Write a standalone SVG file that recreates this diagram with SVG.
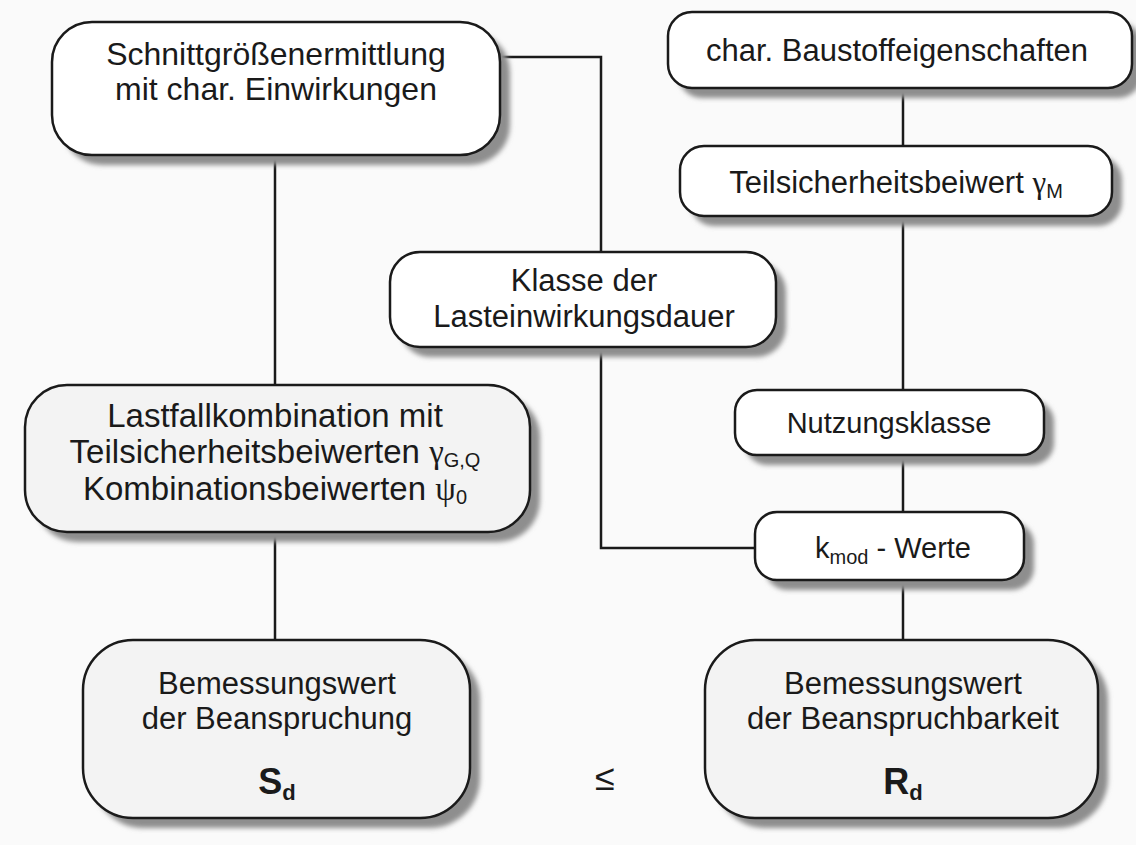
<svg xmlns="http://www.w3.org/2000/svg" width="1136" height="845" viewBox="0 0 1136 845">
<defs>
<filter id="blur" x="-10%" y="-10%" width="120%" height="130%"><feGaussianBlur stdDeviation="2.5"/></filter>
<style>
.bx{fill:#ffffff;stroke:#1a1a1a;stroke-width:2.5}
.bg{fill:#f3f3f3;stroke:#1a1a1a;stroke-width:2.5}
.sh{fill:#8e8e8e;filter:url(#blur)}
.ln{stroke:#1a1a1a;stroke-width:2.5;fill:none}
text{font-family:"Liberation Sans",Arial,sans-serif;font-size:31px;fill:#1a1a1a;text-anchor:middle}
.gr{font-family:"Liberation Serif","Times New Roman",serif}
.sub{font-size:20px}
.bd{font-weight:bold;font-size:36px}
.bds{font-weight:bold;font-size:22px}
</style>
</defs>
<rect width="1136" height="845" fill="#fafafa"/>
<g id="connectors">
<path class="ln" d="M275,155 V385"/>
<path class="ln" d="M500,57 H601 V252"/>
<path class="ln" d="M601,347 V548 H755"/>
<path class="ln" d="M903,88 V146"/>
<path class="ln" d="M903,216 V390"/>
<path class="ln" d="M903,455 V512"/>
<path class="ln" d="M903,580 V640"/>
<path class="ln" d="M275,532 V640"/>
</g>
<g id="n1">
<rect class="sh" x="62" y="32" width="448" height="133" rx="40"/>
<rect class="bx" x="52" y="22" width="448" height="133" rx="40"/>
<text x="276" y="65" style="font-size:32px">Schnittgrößenermittlung</text>
<text x="276" y="100" style="font-size:32px">mit char. Einwirkungen</text>
</g>
<g id="n2">
<rect class="sh" x="678" y="22" width="464" height="76" rx="24"/>
<rect class="bx" x="668" y="12" width="464" height="76" rx="24"/>
<text x="897" y="61">char. Baustoffeigenschaften</text>
</g>
<g id="n3">
<rect class="sh" x="690" y="156" width="432" height="70" rx="24"/>
<rect class="bx" x="680" y="146" width="432" height="70" rx="24"/>
<text x="896" y="193">Teilsicherheitsbeiwert <tspan class="gr">γ</tspan><tspan class="sub" dy="5">M</tspan></text>
</g>
<g id="n4">
<rect class="sh" x="400" y="262" width="386" height="95" rx="30"/>
<rect class="bx" x="390" y="252" width="386" height="95" rx="30"/>
<text x="584" y="291">Klasse der</text>
<text x="584" y="327">Lasteinwirkungsdauer</text>
</g>
<g id="n5">
<rect class="sh" x="35" y="395" width="505" height="147" rx="42"/>
<rect class="bg" x="25" y="385" width="505" height="147" rx="42"/>
<text x="275" y="427" style="font-size:33px">Lastfallkombination mit</text>
<text x="275" y="463" style="font-size:33px">Teilsicherheitsbeiwerten <tspan class="gr">γ</tspan><tspan class="sub" dy="4">G,Q</tspan></text>
<text x="275" y="500" style="font-size:33px">Kombinationsbeiwerten <tspan class="gr">ψ</tspan><tspan class="sub" dy="4">0</tspan></text>
</g>
<g id="n6">
<rect class="sh" x="745" y="400" width="309" height="65" rx="22"/>
<rect class="bx" x="735" y="390" width="309" height="65" rx="22"/>
<text x="889" y="433" style="font-size:29px">Nutzungsklasse</text>
</g>
<g id="n7">
<rect class="sh" x="765" y="522" width="269" height="68" rx="22"/>
<rect class="bx" x="755" y="512" width="269" height="68" rx="22"/>
<text x="893" y="558" style="font-size:29px">k<tspan class="sub" dy="6">mod</tspan><tspan dy="-6"> - Werte</tspan></text>
</g>
<g id="n8">
<rect class="sh" x="93" y="650" width="387" height="178" rx="50"/>
<rect class="bg" x="83" y="640" width="387" height="178" rx="50"/>
<text x="277" y="694">Bemessungswert</text>
<text x="277" y="729">der Beanspruchung</text>
<text x="277" y="794"><tspan class="bd">S</tspan><tspan class="bds" dy="6">d</tspan></text>
</g>
<g id="n9">
<rect class="sh" x="715" y="650" width="393" height="178" rx="50"/>
<rect class="bg" x="705" y="640" width="393" height="178" rx="50"/>
<text x="903" y="694">Bemessungswert</text>
<text x="903" y="729">der Beanspruchbarkeit</text>
<text x="903" y="794"><tspan class="bd">R</tspan><tspan class="bds" dy="6">d</tspan></text>
</g>
<g id="rel">
<text x="605" y="790" style="font-size:36px">≤</text>
</g>
</svg>
